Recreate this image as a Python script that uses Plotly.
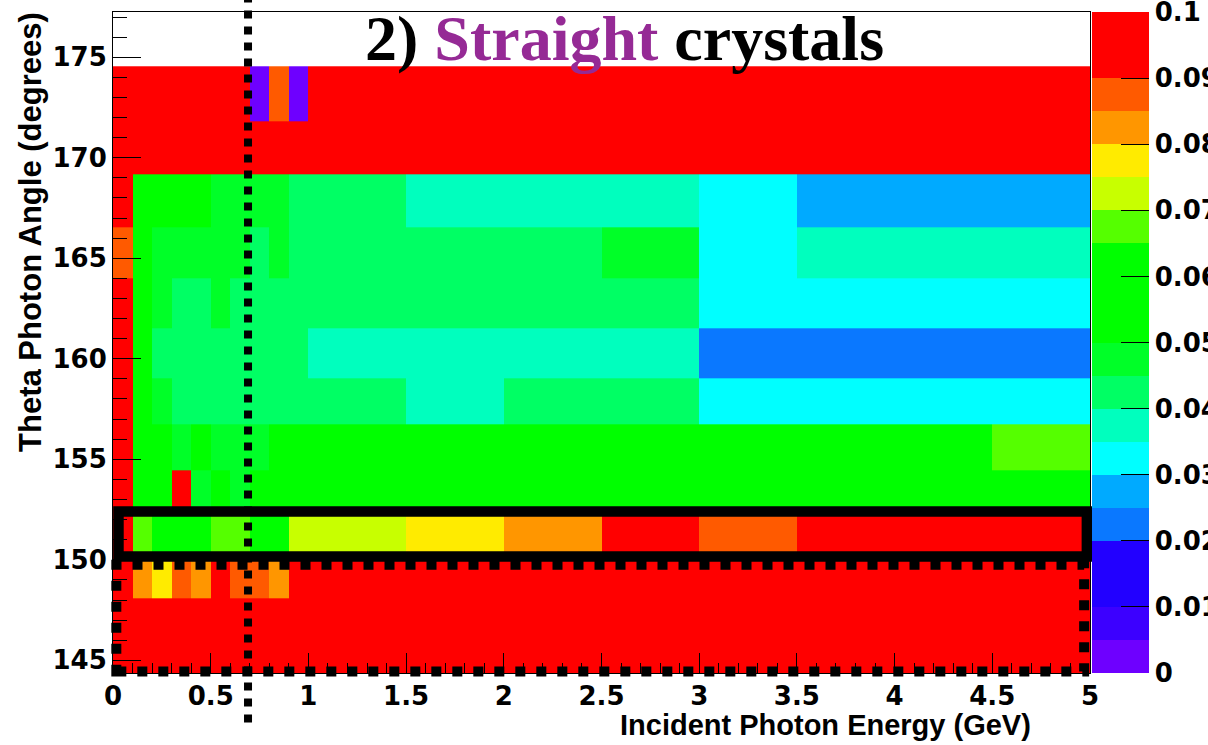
import plotly.graph_objects as go

# ---------------- data ----------------
# bin edges of the 2D histogram
energy_edges = [0.0, 0.1, 0.2, 0.3, 0.4, 0.5, 0.6, 0.7, 0.8, 0.9, 1.0,
                1.5, 2.0, 2.5, 3.0, 3.5, 4.0, 4.5, 5.0]
theta_edges = [144.2, 146.1, 148.1, 150.15, 152.3, 154.47, 156.75, 159.05,
               161.51, 163.99, 166.52, 169.17, 171.82, 174.55]

# cell values, one row per theta bin (bottom to top), 18 energy bins each
row_144 = [0.098] * 18
row_146 = [0.098] * 18
row_148 = [0.098, 0.083, 0.078, 0.088, 0.083, 0.098, 0.088, 0.088, 0.083, 0.098,
           0.098, 0.098, 0.098, 0.098, 0.098, 0.098, 0.098, 0.098]
row_150 = [0.098, 0.068, 0.058, 0.058, 0.058, 0.068, 0.068, 0.058, 0.058, 0.073,
           0.073, 0.078, 0.083, 0.098, 0.088, 0.098, 0.098, 0.098]
row_152 = [0.098, 0.058, 0.058, 0.098, 0.048, 0.058, 0.048, 0.058, 0.058, 0.058,
           0.058, 0.058, 0.058, 0.058, 0.058, 0.058, 0.058, 0.058]
row_154 = [0.098, 0.058, 0.058, 0.048, 0.058, 0.048, 0.048, 0.048, 0.058, 0.058,
           0.058, 0.058, 0.058, 0.058, 0.058, 0.058, 0.058, 0.068]
row_156 = [0.098, 0.058, 0.048, 0.043, 0.043, 0.043, 0.043, 0.043, 0.043, 0.043,
           0.043, 0.037, 0.043, 0.043, 0.032, 0.032, 0.032, 0.032]
row_159 = [0.098, 0.058, 0.043, 0.043, 0.043, 0.043, 0.043, 0.043, 0.043, 0.043,
           0.037, 0.037, 0.037, 0.037, 0.024, 0.024, 0.024, 0.024]
row_161 = [0.098, 0.058, 0.048, 0.043, 0.043, 0.048, 0.043, 0.043, 0.043, 0.043,
           0.043, 0.043, 0.043, 0.043, 0.032, 0.032, 0.032, 0.032]
row_164 = [0.088, 0.058, 0.048, 0.048, 0.048, 0.048, 0.048, 0.043, 0.048, 0.043,
           0.043, 0.043, 0.043, 0.048, 0.032, 0.037, 0.037, 0.037]
row_166 = [0.098, 0.058, 0.058, 0.058, 0.058, 0.048, 0.048, 0.048, 0.048, 0.043,
           0.043, 0.037, 0.037, 0.037, 0.032, 0.027, 0.027, 0.027]
row_169 = [0.098] * 18
row_171 = [0.098, 0.098, 0.098, 0.098, 0.098, 0.098, 0.098, 0.002, 0.088, 0.003,
           0.098, 0.098, 0.098, 0.098, 0.098, 0.098, 0.098, 0.098]

z_rows = [row_144, row_146, row_148, row_150, row_152, row_154, row_156,
          row_159, row_161, row_164, row_166, row_169, row_171]

# colour of each of the 20 contour bands (0 .. 0.1, step 0.005)
band_colors = ["#6E00FF", "#3C00FF", "#2200FF", "#2200FF", "#0A78FF",
               "#00AAFF", "#00FFFF", "#00FFBE", "#00FF64", "#00FF28",
               "#00FF00", "#00FF00", "#00FF00", "#55FF00", "#C8FF00",
               "#FFEB00", "#FF9600", "#FF5A00", "#FF0000", "#FF0000"]
z_min, z_max = 0.0, 0.1
cbar_ticks = [0.0, 0.01, 0.02, 0.03, 0.04, 0.05, 0.06, 0.07, 0.08, 0.09, 0.1]
cbar_labels = ["0", "0.01", "0.02", "0.03", "0.04", "0.05", "0.06", "0.07",
               "0.08", "0.09", "0.1"]

# axis ranges
x_range = [0.0, 5.0]
y_range = [144.37, 177.25]

# annotation geometry (data units)
cut_energy = 0.691                    # vertical dotted line
box_energy = [0.028, 4.984]           # solid black box
box_theta = [150.16, 152.4]
dot_energy = [0.017, 4.970]           # dotted rectangle
dot_theta = [144.45, 149.75]

# ---------------- figure ----------------
n = len(band_colors)
colorscale = []
for i, c in enumerate(band_colors):
    colorscale.append([i / n, c])
    colorscale.append([(i + 1) / n, c])

def fx(v):
    return (v - x_range[0]) / (x_range[1] - x_range[0])

def fy(v):
    return (v - y_range[0]) / (y_range[1] - y_range[0])

TICK_FONT = dict(family="DejaVu Sans", size=26, color="black", weight="bold")

fig = go.Figure()
fig.add_trace(go.Heatmap(
    x=energy_edges, y=theta_edges, z=z_rows,
    zmin=z_min, zmax=z_max, colorscale=colorscale,
    colorbar=dict(
        x=1.002, xanchor="left", xpad=0, ypad=0,
        y=0.5, yanchor="middle", len=1.0, lenmode="fraction",
        thickness=57, outlinewidth=0,
        tickmode="array", tickvals=cbar_ticks, ticktext=cbar_labels,
        ticks="inside", ticklen=28, tickcolor="black", tickwidth=1,
        ticklabeloverflow="allow",
        tickfont=TICK_FONT,
    ),
    hoverinfo="skip",
))

fig.update_xaxes(
    range=x_range, showgrid=False, zeroline=False,
    tickmode="linear", tick0=0, dtick=0.5,
    ticks="inside", ticklen=20, tickcolor="black", tickwidth=1,
    minor=dict(dtick=0.1, ticks="inside", ticklen=10, tickcolor="black"),
    showline=True, linecolor="black", linewidth=1, mirror=True,
    tickfont=TICK_FONT,
)
fig.update_yaxes(
    range=y_range, showgrid=False, zeroline=False,
    tickmode="linear", tick0=145, dtick=5,
    ticks="inside", ticklen=28, tickcolor="black", tickwidth=1,
    minor=dict(dtick=1, ticks="inside", ticklen=14, tickcolor="black"),
    showline=True, linecolor="black", linewidth=1, mirror=True,
    tickfont=TICK_FONT,
)

shapes = [
    dict(type="rect", xref="paper", yref="paper",
         x0=fx(box_energy[0]), x1=fx(box_energy[1]),
         y0=fy(box_theta[0]), y1=fy(box_theta[1]),
         line=dict(color="black", width=10.5)),
    dict(type="rect", xref="paper", yref="paper",
         x0=fx(dot_energy[0]), x1=fx(dot_energy[1]),
         y0=fy(dot_theta[0]), y1=fy(dot_theta[1]),
         line=dict(color="black", width=10, dash="10px,11px")),
    dict(type="line", xref="paper", yref="paper",
         x0=fx(cut_energy), x1=fx(cut_energy), y0=-0.075, y1=1.02,
         line=dict(color="black", width=8, dash="dot")),
]

annotations = [
    dict(text='2) <span style="color:#952A95">Straight</span> crystals',
         xref="paper", yref="paper", x=fx(2.62), y=1.016, xanchor="center", yanchor="top",
         showarrow=False,
         font=dict(family="Liberation Serif", size=64, color="black", weight="bold")),
    dict(text="Incident Photon Energy (GeV)", xref="paper", yref="paper",
         x=fx(4.71), y=-0.051, xanchor="right", yanchor="top", showarrow=False,
         font=dict(family="Liberation Sans", size=29, color="black", weight="bold")),
    dict(text="Theta Photon Angle (degrees)", xref="paper", yref="paper",
         x=-0.085, y=1.003, xanchor="center", yanchor="top", textangle=-90,
         showarrow=False,
         font=dict(family="Liberation Sans", size=31, color="black", weight="bold")),
]

fig.update_layout(
    width=1208, height=745,
    margin=dict(l=113, r=118, t=12, b=72, autoexpand=False),
    paper_bgcolor="white", plot_bgcolor="white",
    shapes=shapes, annotations=annotations,
    showlegend=False,
)

fig.write_html("out.html")
